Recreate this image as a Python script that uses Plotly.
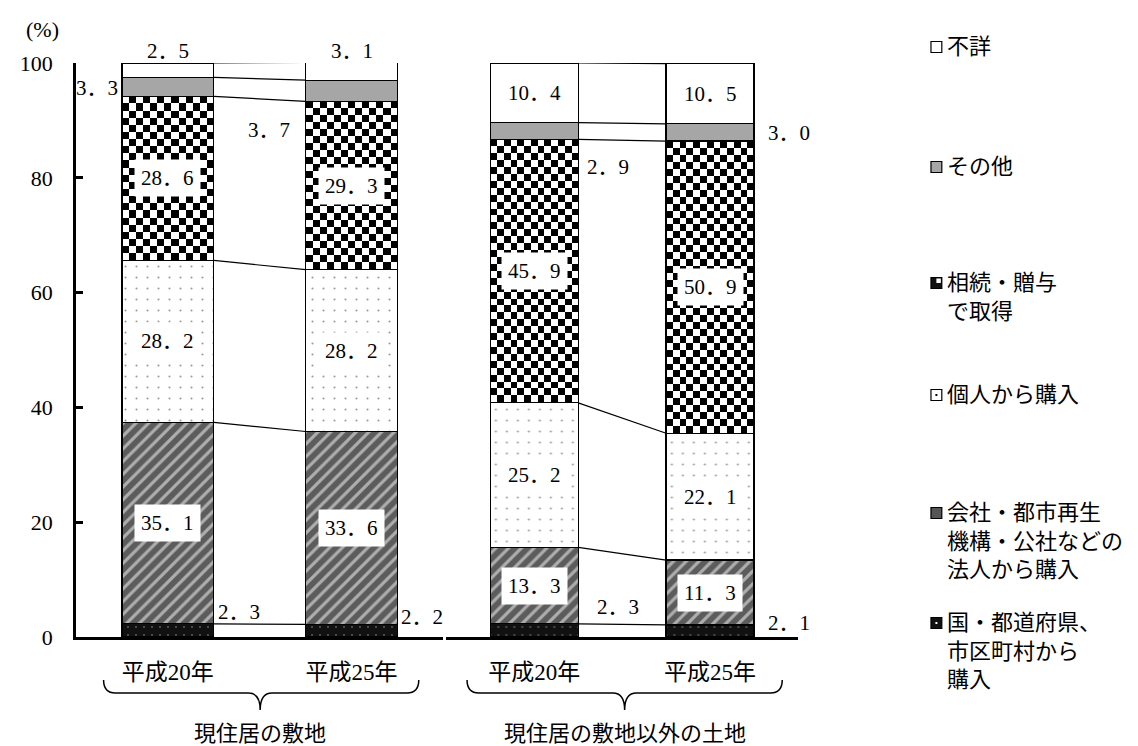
import numpy as np
import plotly.graph_objects as go

# ---- data ----
years = ["平成20年", "平成25年"]
groups = ["現住居の敷地", "現住居の敷地以外の土地"]
segments = ["国・都道府県、市区町村から購入",
            "会社・都市再生機構・公社などの法人から購入",
            "個人から購入", "相続・贈与で取得", "その他", "不詳"]
legend_text = ["国・都道府県、<br>市区町村から<br>購入",
               "会社・都市再生<br>機構・公社などの<br>法人から購入",
               "個人から購入", "相続・贈与<br>で取得", "その他", "不詳"]

site_h20 = [2.3, 35.1, 28.2, 28.6, 3.3, 2.5]
site_h25 = [2.2, 33.6, 28.2, 29.3, 3.7, 3.1]
other_h20 = [2.3, 13.3, 25.2, 45.9, 2.9, 10.4]
other_h25 = [2.1, 11.3, 22.1, 50.9, 3.0, 10.5]

values = [[site_h20, site_h25], [other_h20, other_h25]]

# ---- styling ----
SERIF = "Liberation Serif"
FONT = "Liberation Serif, Noto Sans CJK JP"
OFF = 8                                   # page body margin
W, H = 1138 - OFF, 746 - OFF
PL, PR, PT, PB = 65, 798, 63, 637         # plot area, in window px
BAR_W = 0.5
CHECK_PX = 7                              # checker cell size

def px_x(px):
    return (px - PL) / (PR - PL)

def px_y(py):
    return (PB - py) / (PB - PT)

def serif(s):
    return f'<span style="font-family:{SERIF}">{s}</span>'

def fmt(v):
    a, b = f"{v:.1f}".split(".")
    return serif(a) + "．" + serif(b)

def year_label(t):
    return t[:2] + serif(t[2:4]) + t[4:]

seg_style = [
    dict(color="#111111", pattern=dict(shape=".", fgcolor="#9a9a9a", bgcolor="#111111", size=8, solidity=0.06)),
    dict(color="#5c5c5c", pattern=dict(shape="/", fgcolor="white", bgcolor="#5c5c5c", size=9, solidity=0.35)),
    dict(color="white", pattern=dict(shape=".", fgcolor="#333333", bgcolor="white", size=11, solidity=0.03)),
    dict(color="rgba(0,0,0,0)"),   # checkerboard drawn underneath as heatmap
    dict(color="#a6a6a6"),
    dict(color="white"),
]

# label placement for the small segments: (group, year, seg) -> (where, y, xshift/yshift)
outside = {
    (0, 0, 5): ("top", 100, 12), (0, 0, 4): ("left", 95.6, -2), (0, 0, 0): ("right", 4.3, 2),
    (0, 1, 5): ("top", 100, 12), (0, 1, 4): ("left", 88.3, -14), (0, 1, 0): ("right", 3.5, 2),
    (1, 0, 4): ("right", 81.9, 7), (1, 0, 0): ("right", 5.2, 17),
    (1, 1, 4): ("right", 87.8, 12), (1, 1, 0): ("right", 2.4, 12),
}

fig = go.Figure()
annotations = []

for g in range(2):
    xa = "x" if g == 0 else "x2"
    ya = "y" if g == 0 else "y2"
    xs = [0, 1]
    # checkerboard for 相続・贈与
    for j in range(2):
        v = values[g][j]
        base = sum(v[:3])
        top = base + v[3]
        px_per_unit = (PB - PT) / 100
        nrows = max(1, int(round(v[3] * px_per_unit / CHECK_PX)))
        ncols = 13
        xe = np.linspace(j - BAR_W / 2, j + BAR_W / 2, ncols + 1)
        ye = np.linspace(base, top, nrows + 1)
        z = np.indices((nrows, ncols)).sum(axis=0) % 2
        fig.add_trace(go.Heatmap(x=xe, y=ye, z=z, colorscale=[[0, "white"], [1, "black"]],
                                 zmin=0, zmax=1, showscale=False, hoverinfo="skip",
                                 xaxis=xa, yaxis=ya))
    for s in range(6):
        st = seg_style[s]
        marker = dict(color=st["color"], line=dict(color="black", width=1.3))
        if "pattern" in st:
            marker["pattern"] = st["pattern"]
        fig.add_trace(go.Bar(x=xs, y=[values[g][0][s], values[g][1][s]], width=BAR_W,
                             name=segments[s], marker=marker, xaxis=xa, yaxis=ya))
    # series lines between bars
    cum0 = np.cumsum(values[g][0])
    cum1 = np.cumsum(values[g][1])
    for s in range(6):
        fig.add_trace(go.Scatter(x=[BAR_W / 2, 1 - BAR_W / 2], y=[cum0[s], cum1[s]], mode="lines",
                                 line=dict(color="black", width=1.2), hoverinfo="skip",
                                 cliponaxis=False, xaxis=xa, yaxis=ya))
    # data labels
    for j in range(2):
        v = values[g][j]
        cum = np.cumsum(v)
        for s in range(6):
            key = (g, j, s)
            if key in outside:
                where, yy, sh = outside[key]
                if where == "top":
                    annotations.append(dict(x=j, y=yy, xref=xa, yref=ya, text=fmt(v[s]),
                                            showarrow=False, xanchor="center", yanchor="middle",
                                            yshift=sh, font=dict(size=21)))
                elif where == "left":
                    annotations.append(dict(x=j - BAR_W / 2, y=yy, xref=xa, yref=ya, text=fmt(v[s]),
                                            showarrow=False, xanchor="right", yanchor="middle",
                                            xshift=sh, font=dict(size=21)))
                else:
                    annotations.append(dict(x=j + BAR_W / 2, y=yy, xref=xa, yref=ya, text=fmt(v[s]),
                                            showarrow=False, xanchor="left", yanchor="middle",
                                            xshift=sh, font=dict(size=21)))
            else:
                annotations.append(dict(x=j, y=cum[s] - v[s] / 2, xref=xa, yref=ya, text=fmt(v[s]),
                                        showarrow=False, bgcolor="white", borderpad=6,
                                        font=dict(size=21)))

# (%) label
annotations.append(dict(x=px_x(31), y=px_y(30), xref="paper", yref="paper", text="(%)",
                        showarrow=False, xanchor="center", yanchor="middle",
                        font=dict(size=22, family=SERIF)))

# group labels and braces
shapes = []
brace_px = [(93, 252, 413), (462, 622, 782)]
for g, (x0, xc, x1) in enumerate(brace_px):
    yt, ym, yb = px_y(680), px_y(693), px_y(710)
    r = px_x(x0 + 12) - px_x(x0)
    a, c, b = px_x(x0), px_x(xc), px_x(x1)
    path = (f"M{a},{yt} Q{a},{ym} {a + r},{ym} L{c - r},{ym} Q{c},{ym} {c},{yb} "
            f"Q{c},{ym} {c + r},{ym} L{b - r},{ym} Q{b},{ym} {b},{yt}")
    shapes.append(dict(type="path", path=path, xref="paper", yref="paper",
                       line=dict(color="black", width=1.5)))
    annotations.append(dict(x=c, y=px_y(719), xref="paper", yref="paper", text=groups[g],
                            showarrow=False, xanchor="center", yanchor="top",
                            font=dict(size=22)))

# legend (top item is 不詳)
legend_y = [623, 513, 395, 283, 167, 47]   # px of first text line, per segment
sw_fill = ["#111111", "#555555", "white", "#111111", "#a6a6a6", "white"]
for s in range(6):
    cy = legend_y[s]
    shapes.append(dict(type="rect", xref="paper", yref="paper",
                       x0=px_x(933), x1=px_x(944), y0=px_y(cy + 5.5), y1=px_y(cy - 5.5),
                       fillcolor=sw_fill[s], line=dict(color="black", width=1.2)))
    if s in (0, 2):
        dot = "white" if s == 0 else "black"
        shapes.append(dict(type="rect", xref="paper", yref="paper",
                           x0=px_x(937.5), x1=px_x(939.5), y0=px_y(cy + 1), y1=px_y(cy - 1),
                           fillcolor=dot, line=dict(width=0)))
    if s == 3:
        shapes.append(dict(type="rect", xref="paper", yref="paper",
                           x0=px_x(938.5), x1=px_x(943), y0=px_y(cy), y1=px_y(cy - 4.5),
                           fillcolor="white", line=dict(width=0)))
    annotations.append(dict(x=px_x(947), y=px_y(cy - 15), xref="paper", yref="paper",
                            text=legend_text[s], showarrow=False, xanchor="left", yanchor="top",
                            align="left", font=dict(size=22)))

axis_common = dict(range=[-0.5, 1.5], tickvals=[0, 1], ticktext=[year_label(t) for t in years],
                   showline=True, linewidth=3, linecolor="black", ticks="", showgrid=False,
                   zeroline=False, tickfont=dict(size=23), ticklabelstandoff=12, fixedrange=True)

fig.update_layout(
    width=W, height=H,
    margin=dict(l=PL - OFF, r=W - (PR - OFF), t=PT - OFF, b=H - (PB - OFF)),
    paper_bgcolor="white", plot_bgcolor="white",
    barmode="stack", showlegend=False,
    font=dict(family=FONT, size=21, color="black"),
    xaxis=dict(domain=[0, px_x(438)], anchor="y", **axis_common),
    xaxis2=dict(domain=[px_x(441), 1], anchor="y2", **axis_common),
    yaxis=dict(range=[0, 100], tickvals=list(range(0, 101, 20)), ticks="inside", ticklen=7,
               tickwidth=2.5, tickcolor="black", showline=True, linewidth=2.5, linecolor="black",
               showgrid=False, zeroline=False, tickfont=dict(size=22), ticklabelstandoff=16,
               fixedrange=True),
    yaxis2=dict(range=[0, 100], anchor="x2", visible=False, fixedrange=True),
    annotations=annotations,
    shapes=shapes,
)

fig.write_html("out.html")
